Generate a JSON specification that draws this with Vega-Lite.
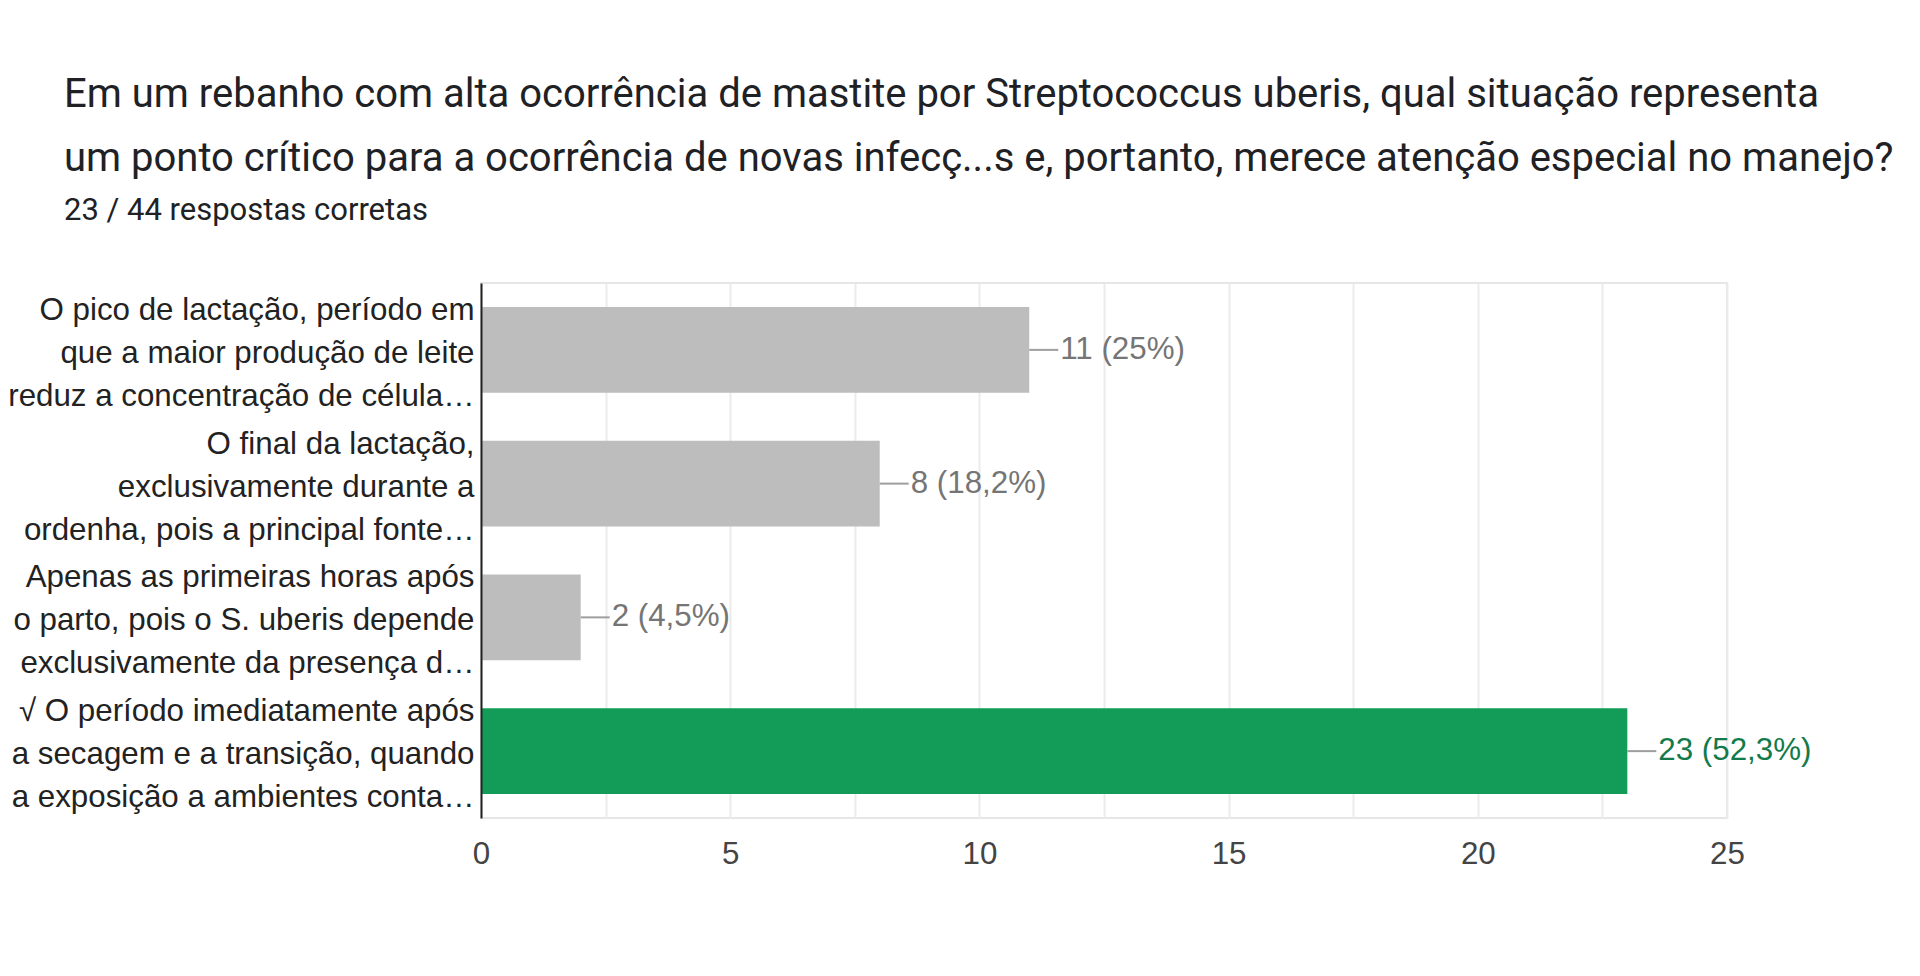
{
  "$schema": "https://vega.github.io/schema/vega-lite/v6.json",
  "autosize": {"type": "none"},
  "width": 1246,
  "height": 535,
  "padding": {"left": 481, "top": 283, "right": 193, "bottom": 158},
  "background": "#ffffff",
  "title": {
    "text": ["Em um rebanho com alta ocorrência de mastite por Streptococcus uberis, qual situação representa", "um ponto crítico para a ocorrência de novas infecç...s e, portanto, merece atenção especial no manejo?"],
    "subtitle": "23 / 44 respostas corretas",
    "anchor": "start",
    "frame": "group",
    "dx": -417,
    "offset": 57,
    "font": "Roboto",
    "fontSize": 40,
    "fontWeight": "normal",
    "lineHeight": 64,
    "color": "#202124",
    "subtitleFont": "Roboto",
    "subtitleFontSize": 31,
    "subtitleColor": "#202124",
    "subtitlePadding": 17
  },
  "config": {
    "view": {"stroke": "#e6e6e6", "strokeWidth": 2},
    "axis": {"labelFont": "Liberation Sans", "labelFontSize": 31.3}
  },
  "data": {
    "values": [
      {"resposta": "O pico de lactação, período em\nque a maior produção de leite\nreduz a concentração de célula…", "respostas": 11, "rotulo": "11 (25%)", "correta": false},
      {"resposta": "O final da lactação,\nexclusivamente durante a\nordenha, pois a principal fonte…", "respostas": 8, "rotulo": "8 (18,2%)", "correta": false},
      {"resposta": "Apenas as primeiras horas após\no parto, pois o S. uberis depende\nexclusivamente da presença d…", "respostas": 2, "rotulo": "2 (4,5%)", "correta": false},
      {"resposta": "√ O período imediatamente após\na secagem e a transição, quando\na exposição a ambientes conta…", "respostas": 23, "rotulo": "23 (52,3%)", "correta": true}
    ]
  },
  "encoding": {
    "y": {
      "field": "resposta",
      "type": "nominal",
      "sort": null,
      "scale": {"paddingInner": 0.36, "paddingOuter": 0.18},
      "axis": {
        "title": null,
        "ticks": false,
        "labelExpr": "split(datum.label, '\\n')",
        "labelLineHeight": 43,
        "labelOffset": -39,
        "labelLimit": 600,
        "labelPadding": 7,
        "labelColor": "#222222",
        "labelAlign": "right",
        "labelBaseline": "middle",
        "domainColor": "#222222",
        "domainWidth": 2,
        "zindex": 2
      }
    }
  },
  "layer": [
    {
      "mark": {"type": "bar"},
      "encoding": {
        "x": {
          "field": "respostas",
          "type": "quantitative",
          "scale": {"domain": [0, 25], "nice": false},
          "axis": {
            "title": null,
            "values": [0, 2.5, 5, 7.5, 10, 12.5, 15, 17.5, 20, 22.5, 25],
            "labelExpr": "datum.value % 5 === 0 ? datum.label : ''",
            "grid": true,
            "gridColor": "#ebebeb",
            "gridWidth": 2,
            "ticks": false,
            "domain": false,
            "labelColor": "#444444",
            "labelPadding": 20,
            "labelFlush": false
          }
        },
        "color": {
          "condition": {"test": "datum.correta", "value": "#129c58"},
          "value": "#bdbdbd"
        }
      }
    },
    {
      "mark": {"type": "rule", "x2Offset": 29, "color": "#9e9e9e", "strokeWidth": 2},
      "encoding": {
        "x": {"field": "respostas", "type": "quantitative"},
        "x2": {"field": "respostas"},
        "y": {"field": "resposta", "type": "nominal", "sort": null, "bandPosition": 0.5}
      }
    },
    {
      "mark": {"type": "text", "align": "left", "baseline": "middle", "dx": 31, "font": "Liberation Sans", "fontSize": 31.3},
      "encoding": {
        "x": {"field": "respostas", "type": "quantitative"},
        "text": {"field": "rotulo"},
        "color": {
          "condition": {"test": "datum.correta", "value": "#137a4b"},
          "value": "#757575"
        }
      }
    }
  ]
}
